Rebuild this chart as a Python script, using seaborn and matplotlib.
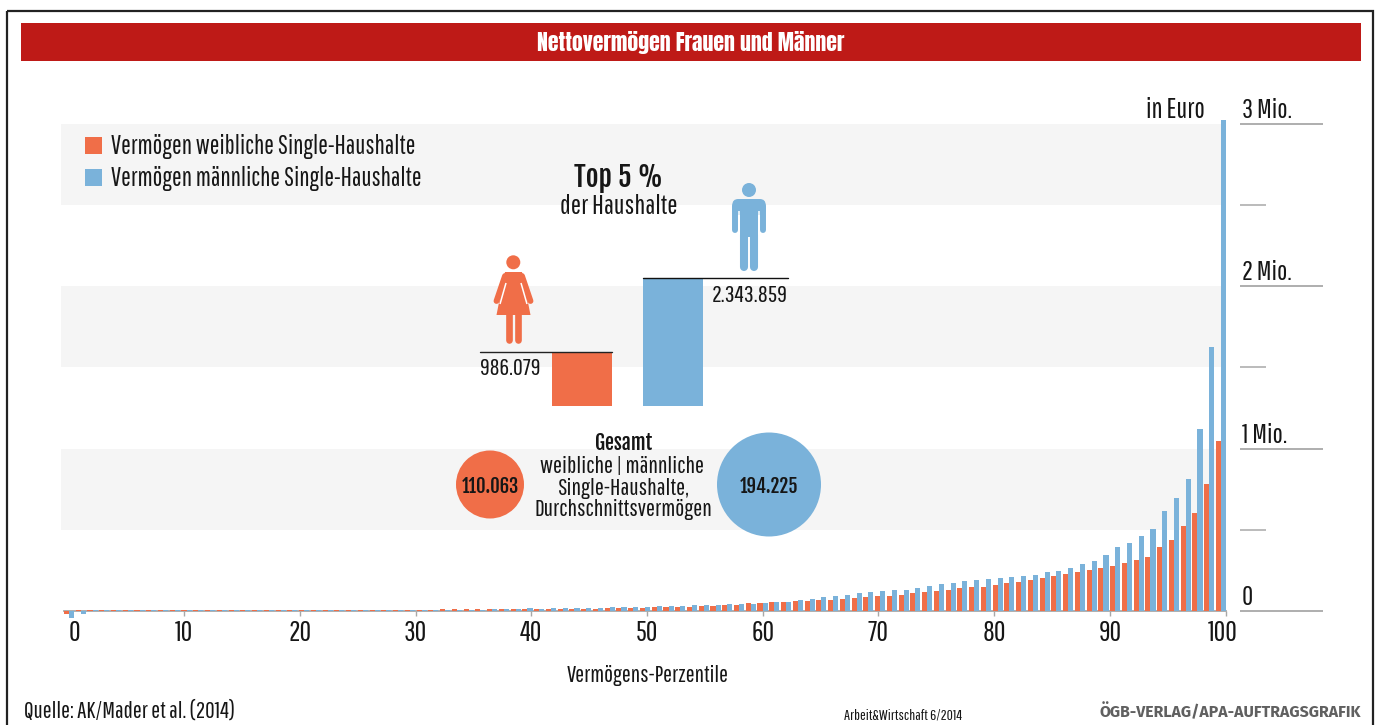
import numpy as np
import pandas as pd
import matplotlib
matplotlib.use("Agg")
import matplotlib.pyplot as plt
import seaborn as sns
from matplotlib.patches import Rectangle, Circle, FancyBboxPatch, Polygon
from matplotlib.transforms import ScaledTranslation
import logging
logging.getLogger("matplotlib.font_manager").setLevel(logging.ERROR)

# === DATA (Mio. Euro) ===
frauen = [
    -0.018, 0.004, 0.008, 0.008, 0.008, 0.008, 0.008, 0.008, 0.008, 0.008,
    0.008, 0.008, 0.008, 0.008, 0.008, 0.008, 0.008, 0.008, 0.008, 0.008,
    0.008, 0.008, 0.008, 0.008, 0.008, 0.008, 0.008, 0.008, 0.009, 0.009,
    0.009, 0.009, 0.010, 0.010, 0.010, 0.010, 0.010,
    0.010, 0.010, 0.010, 0.014, 0.014, 0.014, 0.014, 0.014, 0.014,
    0.020, 0.020, 0.020, 0.020, 0.027, 0.027, 0.027, 0.027, 0.031, 0.033,
    0.039, 0.039, 0.047, 0.047, 0.053, 0.053, 0.059, 0.059, 0.065, 0.065,
    0.072, 0.078, 0.084, 0.090, 0.090,
    0.098, 0.110, 0.117, 0.123, 0.129, 0.141, 0.147, 0.147, 0.160, 0.172,
    0.178, 0.190, 0.202, 0.215, 0.227, 0.239, 0.252, 0.264, 0.276, 0.294,
    0.313, 0.331, 0.393, 0.436, 0.521, 0.601, 0.779, 1.049,
]
maenner = [
    -0.043, -0.018, 0.007, 0.007, 0.007, 0.007, 0.007, 0.007, 0.007, 0.007,
    0.007, 0.007, 0.007, 0.007, 0.007, 0.007, 0.007, 0.007, 0.007, 0.007,
    0.007, 0.007, 0.007, 0.007, 0.007, 0.007, 0.007, 0.007, 0.008, 0.008,
    0.008, 0.008, 0.008, 0.009, 0.009, 0.009, 0.010,
    0.010, 0.010, 0.016, 0.014, 0.016, 0.016, 0.016, 0.016, 0.016,
    0.022, 0.022, 0.022, 0.022, 0.029, 0.029, 0.029, 0.035, 0.035, 0.035,
    0.041, 0.041, 0.041, 0.047, 0.053, 0.053, 0.065, 0.072, 0.084, 0.090,
    0.096, 0.108, 0.115, 0.121, 0.127,
    0.129, 0.141, 0.153, 0.166, 0.172, 0.184, 0.190, 0.196, 0.202, 0.209,
    0.215, 0.221, 0.239, 0.245, 0.264, 0.288, 0.307, 0.344, 0.393, 0.417,
    0.460, 0.503, 0.613, 0.693, 0.810, 1.123, 1.626, 3.020,
]
gruppen = ["weiblich", "männlich"]
top5 = [986079, 2343859]
top5_labels = ["986.079", "2.343.859"]
gesamt_labels = ["110.063", "194.225"]
x_ticks = [0, 10, 20, 30, 40, 50, 60, 70, 80, 90, 100]
y_major = [0, 1, 2, 3]
y_major_labels = ["0", "1 Mio.", "2 Mio.", "3 Mio."]
y_minor = [0.5, 1.5, 2.5]

ORANGE = "#F06E48"
BLUE = "#7AB2DA"
RED = "#BE1A17"
BAND = "#F5F5F5"
GREY = "#A8A8A8"
INK = "#161616"

FALLBACK = ["Liberation Sans Narrow", "Liberation Sans", "DejaVu Sans"]
REGULAR = ["Pathway Gothic One"] + FALLBACK
HEAVY = ["Fjalla One", "Oswald"] + FALLBACK
TITLE = ["Anton", "Fjalla One"] + FALLBACK

sns.set_theme(style="white")
plt.rcParams["font.family"] = REGULAR

W, H = 1379, 725
fig = plt.figure(figsize=(W / 100, H / 100), dpi=100, facecolor="white")


def px_axes(left, top, right, bottom, **kw):
    return fig.add_axes([left / W, 1 - bottom / H, (right - left) / W, (bottom - top) / H], **kw)


# === MAIN BARS ===
ax = px_axes(61, 100, 1325, 640)
ax.patch.set_visible(False)

X0, X_STEP = 68.3, 11.574  # px of percentile 0, px per percentile
Y0, Y_STEP = 611.0, 162.5  # px of zero, px per Mio.


def x_data(px):
    return (px - X0) / X_STEP


n = len(frauen)
pos = np.linspace(x_data(69), x_data(1221), n)
df = pd.DataFrame({
    "perzentil": np.concatenate([pos, pos]),
    "wert": frauen + maenner,
    "gruppe": [gruppen[0]] * n + [gruppen[1]] * n,
})
sns.barplot(
    data=df, x="perzentil", y="wert", hue="gruppe", hue_order=gruppen,
    native_scale=True, palette=[ORANGE, BLUE], saturation=1, width=0.86,
    gap=0, linewidth=0, errorbar=None, legend=False, ax=ax, zorder=3,
)
ax.set_xlim(x_data(61), x_data(1325))
ax.set_ylim((Y0 - 640) / Y_STEP, (Y0 - 100) / Y_STEP)

band_right = (1226 - 61) / (1325 - 61)
for m in y_major[1:]:
    ax.axhspan(m - 0.5, m, xmin=0, xmax=band_right, color=BAND, lw=0, zorder=0)

# scale on the right
for m in y_major:
    ax.hlines(m, x_data(1240), x_data(1323), color=GREY, lw=1.3, zorder=2)
for m in y_minor:
    ax.hlines(m, x_data(1240), x_data(1266), color=GREY, lw=1.1, zorder=2)
for m, lab in zip(y_major, y_major_labels):
    ax.text(x_data(1242), m + 0.006, lab, fontsize=19.6, color=INK, va="bottom", ha="left")

sns.despine(ax=ax, left=True, right=True, top=True)
ax.spines["bottom"].set_position(("data", 0))
ax.spines["bottom"].set_bounds(x_data(64), 100)
ax.spines["bottom"].set_color(GREY)
ax.spines["bottom"].set_linewidth(1.3)
ax.spines["bottom"].set_zorder(2)
ax.set_yticks([])
ax.set_xticks(x_ticks)
ax.set_xticklabels([str(t) for t in x_ticks], fontsize=20.5, color=INK)
ax.tick_params(axis="x", length=3.5, width=1, color=GREY, pad=3, bottom=True)
ax.set_xlabel("")
ax.set_ylabel("")
ax.xaxis.get_major_ticks()[0].tick1line.set_visible(False)
# first and last label sit a bit inside
lab0 = ax.get_xticklabels()[0]
lab0.set_transform(lab0.get_transform() + ScaledTranslation(6 / 100, 0, fig.dpi_scale_trans))
lab100 = ax.get_xticklabels()[-1]
lab100.set_transform(lab100.get_transform() + ScaledTranslation(-3 / 100, 0, fig.dpi_scale_trans))

# === TOP 5 % BARS ===
ins = px_axes(536.5, 278, 718.5, 406)
ins.patch.set_visible(False)
sns.barplot(x=["w", "m"], y=top5, hue=["w", "m"], palette=[ORANGE, BLUE], saturation=1,
            width=0.66, linewidth=0, legend=False, ax=ins)
ins.set_xlim(-0.5, 1.5)
ins.set_ylim(0, top5[1])
ins.axis("off")

# === EVERYTHING ELSE, IN PIXELS ===
ov = fig.add_axes([0, 0, 1, 1], zorder=5)
ov.set_xlim(0, W)
ov.set_ylim(H, 0)
ov.axis("off")

ov.add_patch(Rectangle((7, 11), 1366, 730, fill=False, ec="#222222", lw=1.6))
ov.add_patch(Rectangle((21, 23), 1340, 38, fc=RED, lw=0))
ov.text(690.5, 42, "Nettovermögen Frauen und Männer", color="white", fontsize=15.7,
        family=TITLE, ha="center", va="center")

# legend
for y, col, lab in [(137, ORANGE, "Vermögen weibliche Single-Haushalte"),
                    (169, BLUE, "Vermögen männliche Single-Haushalte")]:
    ov.add_patch(Rectangle((85, y), 17, 17, fc=col, lw=0))
    ov.text(111, y + 9, lab, fontsize=18.5, color=INK, ha="left", va="center")

ov.text(1205, 110, "in Euro", fontsize=20, color=INK, ha="right", va="center")
ov.text(618, 177, "Top 5 %", fontsize=20, family=HEAVY, color=INK, ha="center", va="center")
ov.text(618.5, 206, "der Haushalte", fontsize=19.6, color=INK, ha="center", va="center")

ov.plot([480, 612], [352, 352], color="#222222", lw=1)
ov.plot([643, 788], [278, 278], color="#111111", lw=1)
ov.text(480, 368, top5_labels[0], fontsize=17.3, color=INK, ha="left", va="center")
ov.text(788, 295, top5_labels[1], fontsize=17.6, color=INK, ha="right", va="center")

# woman
ov.add_patch(Circle((513.3, 262.3), 7, fc=ORANGE, lw=0))
ov.add_patch(Polygon([(505, 272), (522, 272), (530.5, 315), (496.5, 315)], fc=ORANGE, lw=0))
for x1, x2 in [(505, 496.5), (522, 530.5)]:
    ov.plot([x1, x2], [276, 301], color=ORANGE, lw=4.2, solid_capstyle="round")
for x1, x2 in [(506, 500), (521, 527)]:
    ov.plot([x1, x2], [283, 304], color="white", lw=1.1, solid_capstyle="butt")
for x in [509, 517.7]:
    ov.plot([x, x], [314, 340], color=ORANGE, lw=4.8, solid_capstyle="round")

# man
ov.add_patch(Circle((749, 190), 7, fc=BLUE, lw=0))
ov.add_patch(FancyBboxPatch((738.3, 205), 21.4, 4, boxstyle="round,pad=6,rounding_size=6", fc=BLUE, lw=0))
ov.add_patch(Rectangle((740, 205), 18.3, 32, fc=BLUE, lw=0))
for x in [735.3, 762.7]:
    ov.plot([x, x], [206, 230], color=BLUE, lw=4.3, solid_capstyle="round")
for x in [739.1, 758.9]:
    ov.plot([x, x], [211, 236], color="white", lw=1.1, solid_capstyle="butt")
for x in [744, 754.3]:
    ov.plot([x, x], [235, 267], color=BLUE, lw=5.8, solid_capstyle="round")

# circles
ov.add_patch(Circle((490, 484.5), 34, fc=ORANGE, lw=0))
ov.add_patch(Circle((769, 484.5), 52, fc=BLUE, lw=0))
ov.text(490, 486, gesamt_labels[0], fontsize=13.4, family=HEAVY, color=INK, ha="center", va="center")
ov.text(769, 486, gesamt_labels[1], fontsize=13.4, family=HEAVY, color=INK, ha="center", va="center")
ov.text(624, 443, "Gesamt", fontsize=14.5, family=HEAVY, color=INK, ha="center", va="center")
ov.text(621.5, 466, "weibliche | männliche", fontsize=17.3, color=INK, ha="center", va="center")
ov.text(623, 488, "Single-Haushalte,", fontsize=17.3, color=INK, ha="center", va="center")
ov.text(623.5, 510, "Durchschnittsvermögen", fontsize=17.3, color=INK, ha="center", va="center")

# foot
ov.text(648, 675, "Vermögens-Perzentile", fontsize=17, color=INK, ha="center", va="center")
ov.text(24, 711, "Quelle: AK/Mader et al. (2014)", fontsize=16.9, color=INK, ha="left", va="center")
ov.text(844, 716, "Arbeit&Wirtschaft 6/2014", fontsize=11, color=INK, ha="left", va="center")
ov.text(1361, 712, "ÖGB-VERLAG/APA-AUFTRAGSGRAFIK", fontsize=11.4, fontweight="bold",
        family=["Fira Sans", "Lato", "Liberation Sans", "DejaVu Sans"], color="#606060", ha="right", va="center")

fig.savefig("out.png", dpi=100, facecolor="white")
